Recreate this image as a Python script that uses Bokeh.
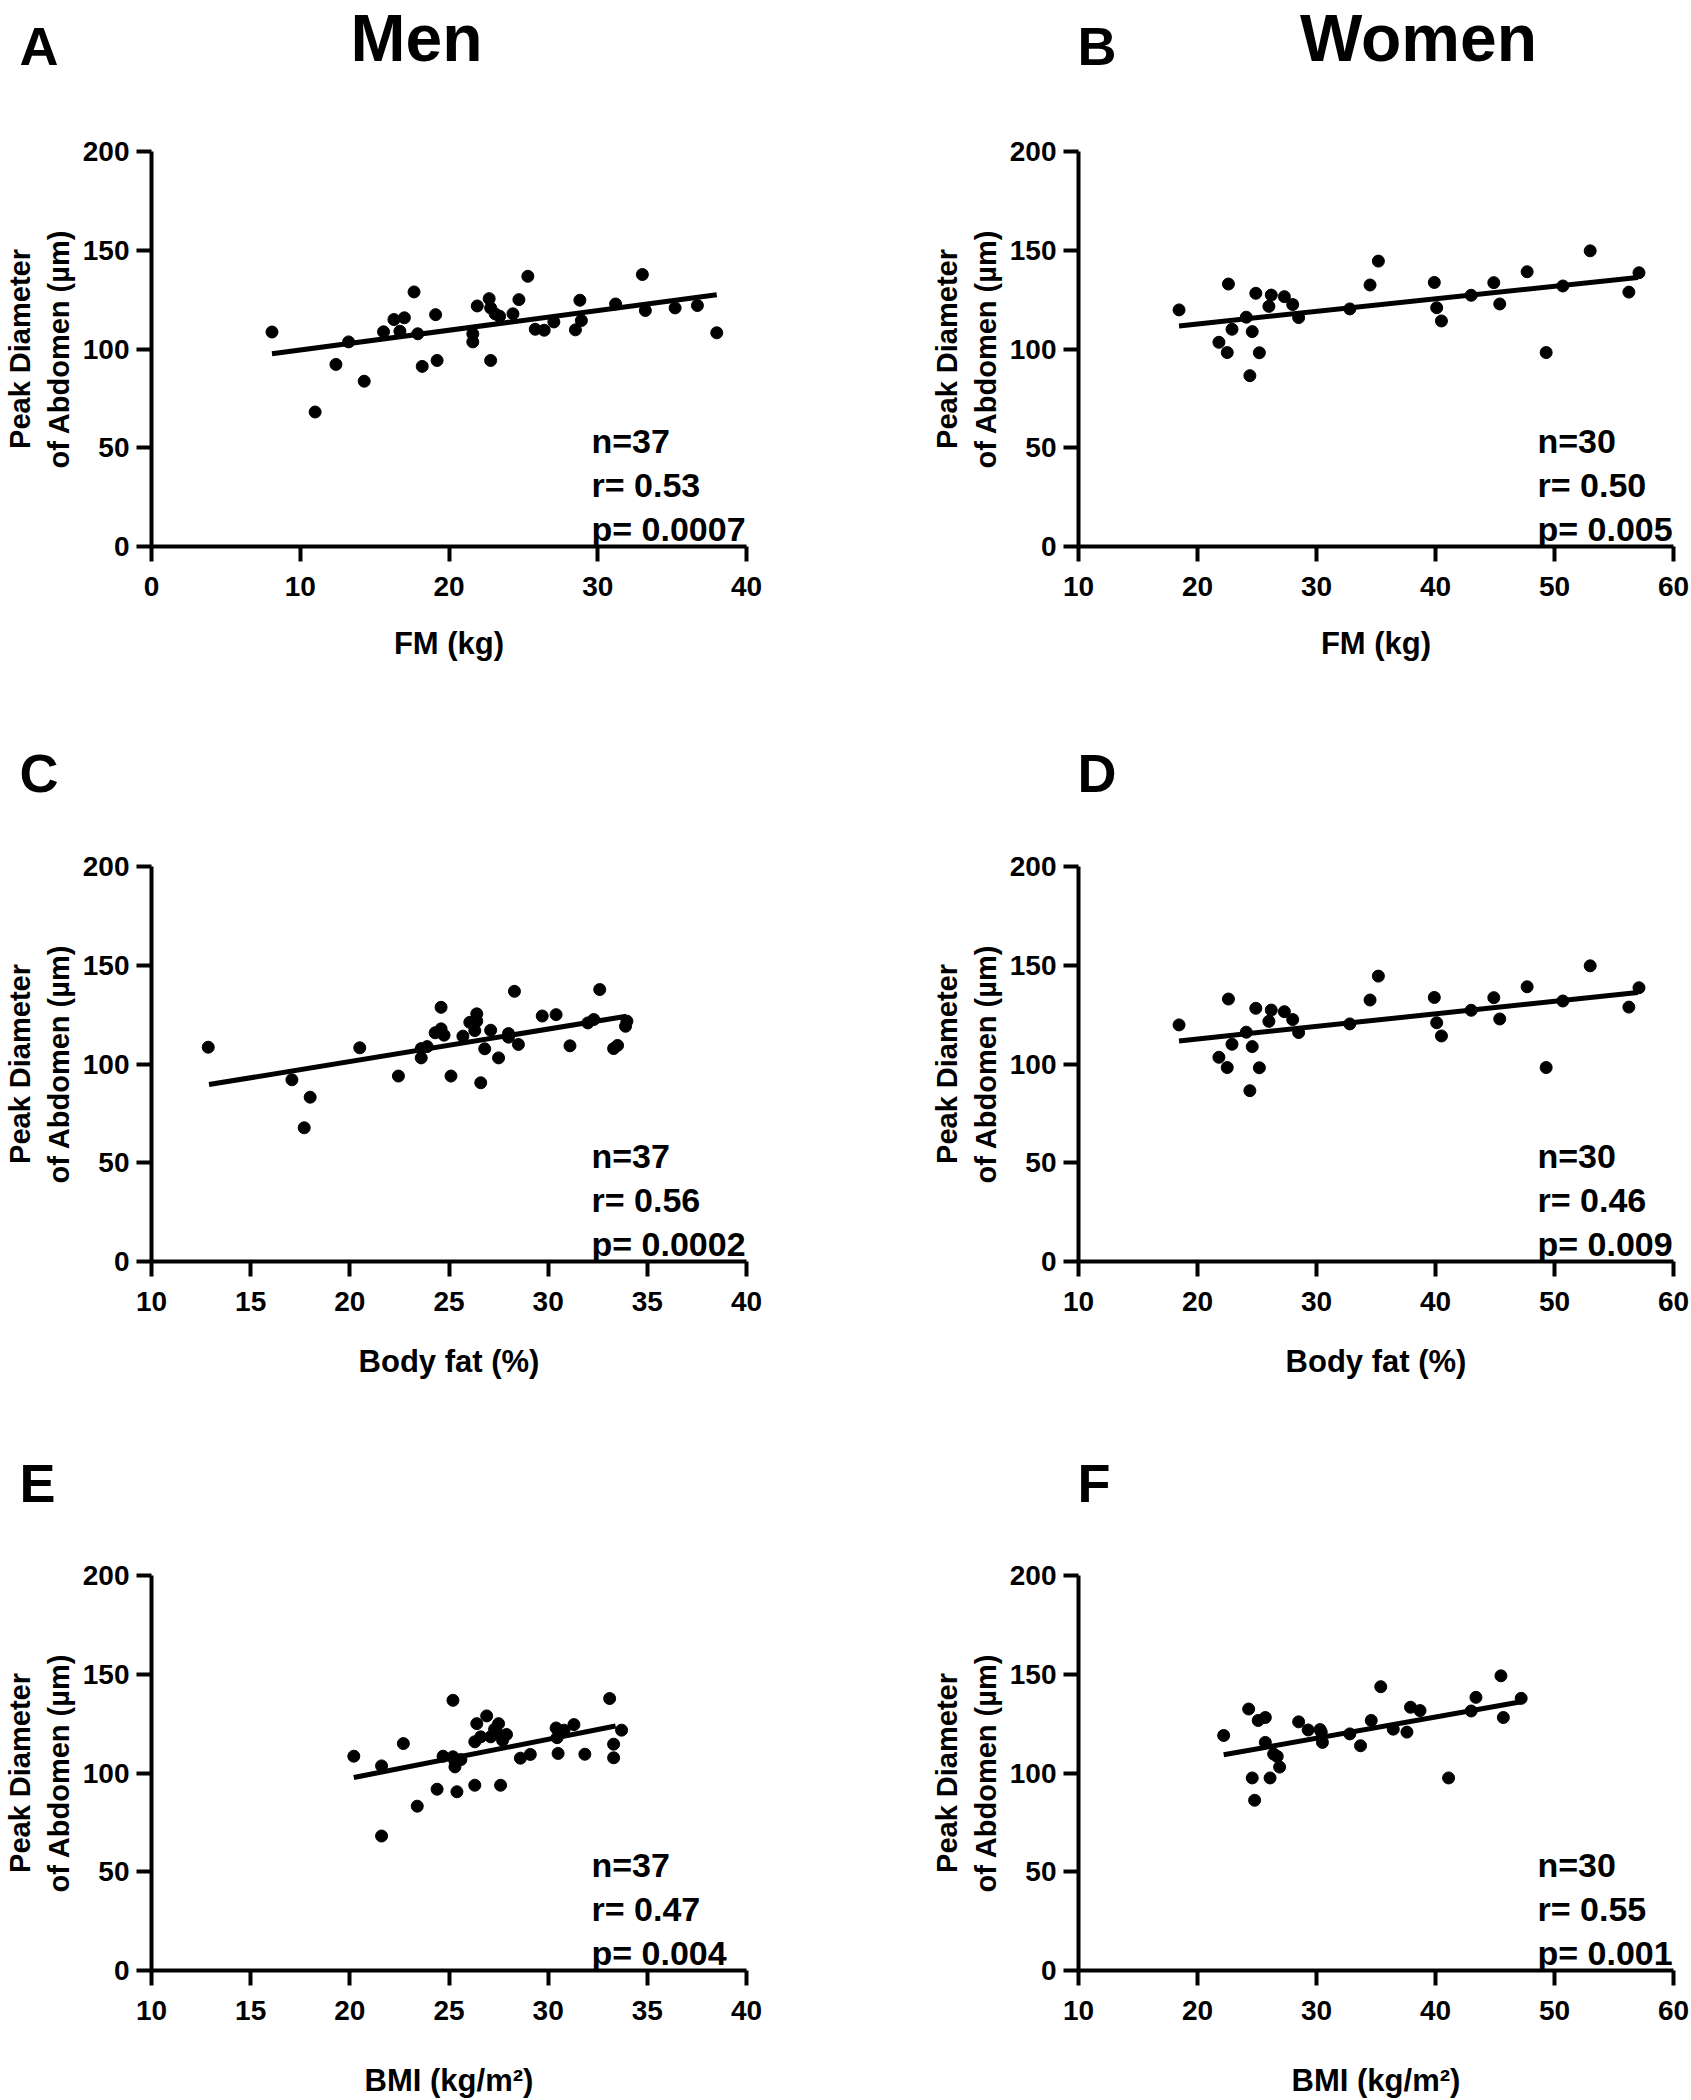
from bokeh.plotting import figure
from bokeh.layouts import column, row
from bokeh.models import Range1d, Label, FixedTicker
from bokeh.core.properties import value
from bokeh.embed import file_html
from bokeh.resources import INLINE

FONT = "Liberation Sans"

# ---------------- data ----------------
y_ticks = [0, 50, 100, 150, 200]
y_title = "Peak Diameter\nof Abdomen (µm)"

# A: Men, FM (kg)
men_fm_x = [8.1, 11.0, 12.4, 13.25, 14.3, 15.6, 16.3, 17.0, 16.7, 17.65, 17.9, 18.2, 19.1, 19.2,
            21.6, 21.6, 21.9, 22.7, 22.8, 23.1, 23.4, 22.8, 24.3, 24.7, 25.3, 25.8, 26.4, 27.05,
            28.5, 28.8, 28.9, 31.2, 33.0, 33.2, 35.2, 36.7, 38.0]
men_fm_y = [108.6, 68.1, 92.2, 103.6, 83.7, 108.7, 114.9, 115.8, 109.0, 128.9, 107.7, 91.2, 117.4, 94.2,
            107.7, 103.6, 121.8, 125.5, 120.8, 117.8, 116.6, 94.2, 117.8, 125.0, 136.8, 110.0, 109.5, 113.7,
            109.7, 124.7, 114.4, 122.8, 137.7, 119.5, 120.8, 122.0, 108.2]
men_fm_fit_x = [8.1, 38.0]
men_fm_fit_y = [97.6, 127.5]
men_fm_ticks = [0, 10, 20, 30, 40]
men_fm_stats = ["n=37", "r= 0.53", "p= 0.0007"]

# B: Women, FM (kg)
women_fm_x = [18.45, 22.6, 21.8, 22.5, 22.9, 24.1, 24.6, 24.4, 24.9, 25.2, 26.0, 26.2, 27.3, 28.0, 28.5,
              32.8, 34.5, 35.2, 39.9, 40.1, 40.5, 43.0, 44.9, 45.4, 47.7, 49.3, 50.7, 53.0, 56.25, 57.1]
women_fm_y = [119.8, 132.9, 103.4, 98.2, 110.0, 116.1, 108.8, 86.5, 128.2, 98.1, 121.6, 127.3, 126.5, 122.5, 115.9,
              120.3, 132.4, 144.5, 133.7, 120.9, 114.2, 127.2, 133.6, 122.8, 139.1, 98.2, 131.9, 149.7, 128.8, 138.6]
women_fm_fit_x = [18.45, 57.0]
women_fm_fit_y = [111.7, 136.2]
women_fm_ticks = [10, 20, 30, 40, 50, 60]
women_fm_stats = ["n=30", "r= 0.50", "p= 0.005"]

# C: Men, Body fat (%)
men_bf_x = [12.86, 17.08, 18.0, 17.7, 20.5, 22.45, 23.6, 23.6, 23.9, 24.3, 24.6, 24.6, 24.75, 25.1, 25.7,
            26.05, 26.4, 26.4, 26.3, 26.6, 26.8, 27.1, 27.5, 28.0, 28.0, 28.3, 28.5, 29.7, 30.4, 31.1,
            32.0, 32.3, 32.6, 33.3, 33.5, 33.9, 33.97]
men_bf_y = [108.5, 92.0, 83.2, 67.7, 108.2, 93.9, 103.1, 107.8, 108.8, 115.8, 128.7, 117.8, 114.6, 93.9, 114.1,
            121.1, 125.4, 121.7, 116.9, 90.5, 107.7, 117.1, 103.1, 115.4, 113.6, 136.8, 109.9, 124.3, 125.0, 109.2,
            120.8, 122.5, 137.7, 107.8, 109.4, 119.1, 121.7]
men_bf_fit_x = [12.9, 33.95]
men_bf_fit_y = [89.6, 124.2]
men_bf_ticks = [10, 15, 20, 25, 30, 35, 40]
men_bf_stats = ["n=37", "r= 0.56", "p= 0.0002"]

# D: Women, Body fat (%)  (the reference shows the same scatter as panel B)
women_bf_x = [18.45, 22.6, 21.8, 22.5, 22.9, 24.1, 24.6, 24.4, 24.9, 25.2, 26.0, 26.2, 27.3, 28.0, 28.5,
              32.8, 34.5, 35.2, 39.9, 40.1, 40.5, 43.0, 44.9, 45.4, 47.7, 49.3, 50.7, 53.0, 56.25, 57.1]
women_bf_y = [119.8, 132.9, 103.4, 98.2, 110.0, 116.1, 108.8, 86.5, 128.2, 98.1, 121.6, 127.3, 126.5, 122.5, 115.9,
              120.3, 132.4, 144.5, 133.7, 120.9, 114.2, 127.2, 133.6, 122.8, 139.1, 98.2, 131.9, 149.7, 128.8, 138.6]
women_bf_fit_x = [18.45, 57.0]
women_bf_fit_y = [111.7, 136.2]
women_bf_ticks = [10, 20, 30, 40, 50, 60]
women_bf_stats = ["n=30", "r= 0.46", "p= 0.009"]

# E: Men, BMI
men_bmi_x = [20.2, 21.6, 21.6, 22.7, 23.4, 24.4, 24.7, 25.2, 25.2, 25.3, 25.4, 25.6, 26.3, 26.3, 26.4,
             26.6, 26.9, 27.1, 27.3, 27.5, 27.6, 27.7, 27.9, 28.6, 29.1, 30.4, 30.45, 30.5, 30.8, 31.3,
             31.85, 33.1, 33.3, 33.3, 33.7, 27.4, 25.3]
men_bmi_y = [108.5, 103.6, 68.1, 114.9, 83.2, 91.8, 108.5, 136.8, 108.2, 103.1, 90.5, 106.8, 93.8, 115.8, 125.0,
             118.3, 128.9, 118.3, 122.2, 125.0, 93.8, 116.6, 119.5, 107.5, 109.4, 122.8, 117.9, 109.9, 121.7, 124.5,
             109.5, 137.7, 107.7, 114.6, 121.7, 120.6, 106.0]
men_bmi_fit_x = [20.2, 33.4]
men_bmi_fit_y = [97.7, 123.8]
men_bmi_ticks = [10, 15, 20, 25, 30, 35, 40]
men_bmi_stats = ["n=37", "r= 0.47", "p= 0.004"]

# F: Women, BMI
women_bmi_x = [22.2, 24.3, 24.6, 24.8, 25.1, 25.7, 25.7, 26.1, 26.4, 26.7, 26.9, 28.5, 29.3, 30.4, 30.5,
               32.8, 33.7, 34.6, 35.4, 36.45, 37.6, 37.9, 38.7, 41.1, 43.0, 43.4, 45.5, 45.7, 47.2, 30.3]
women_bmi_y = [119.0, 132.4, 97.5, 86.2, 126.6, 128.1, 115.5, 97.5, 109.6, 108.4, 103.0, 125.9, 121.8, 120.7, 115.5,
               119.8, 113.8, 126.6, 143.7, 122.2, 120.7, 133.3, 131.6, 97.5, 131.4, 138.3, 149.2, 128.1, 137.8, 122.0]
women_bmi_fit_x = [22.2, 47.2]
women_bmi_fit_y = [109.2, 136.1]
women_bmi_ticks = [10, 20, 30, 40, 50, 60]
women_bmi_stats = ["n=30", "r= 0.55", "p= 0.001"]

# panel letters and column headings
letters = [["A", "B"], ["C", "D"], ["E", "F"]]
headings = ["Men", "Women"]

# ---------------- layout ----------------
PAGE_W = 1691
FRAME_H = 395
FRAME_W = 595
TOP = 20
BOTTOM = [124, 124, 130]
XSTAND = [27, 30, 40]
LEFT_W = 927
RIGHT_W = PAGE_W - LEFT_W
BORDER_L = 151
COLS = [dict(width=LEFT_W, right=LEFT_W - BORDER_L - FRAME_W, stat_x=440),
        dict(width=RIGHT_W, right=RIGHT_W - BORDER_L - FRAME_W, stat_x=459)]
STRIP_H = [131, 176, 170]
LETTER_X = [19, 1077]
LETTER_Y = [45, 102, 97]       # px from top of each strip
HEAD_X = [416, 1418]
HEAD_Y = 37
STAT_Y = [106, 62, 18]         # px above the frame bottom


def strip(r):
    h = STRIP_H[r]
    s = figure(width=PAGE_W, height=h, x_range=Range1d(0, PAGE_W), y_range=Range1d(0, h),
               x_axis_type=None, y_axis_type=None, output_backend="svg",
               toolbar_location=None, tools="", min_border=0, title=None)
    s.outline_line_color = None
    s.background_fill_color = "white"
    s.border_fill_color = "white"
    s.text(x=LETTER_X, y=[h - LETTER_Y[r]] * 2, text=letters[r],
           text_font=value(FONT), text_font_size=value("54px"), text_font_style="bold",
           text_color="black", text_align="left", text_baseline="alphabetic")
    if r == 0:
        s.text(x=HEAD_X, y=[h - HEAD_Y] * 2, text=headings,
               text_font=value(FONT), text_font_size=value("66px"), text_font_style="bold",
               text_color="black", text_align="center", text_baseline="alphabetic")
    return s


def panel(xs, ys, fx, fy, ticks, xlabel, stats, r, c):
    cfg = COLS[c]
    p = figure(width=cfg["width"], height=TOP + FRAME_H + BOTTOM[r],
               x_range=Range1d(ticks[0], ticks[-1]), y_range=Range1d(y_ticks[0], y_ticks[-1]),
               output_backend="svg", toolbar_location=None, tools="", title=None)
    p.min_border_left = BORDER_L
    p.min_border_right = cfg["right"]
    p.min_border_top = TOP
    p.min_border_bottom = BOTTOM[r]
    p.outline_line_color = None
    p.xgrid.visible = False
    p.ygrid.visible = False
    p.background_fill_color = "white"
    p.border_fill_color = "white"

    for ax in (p.xaxis[0], p.yaxis[0]):
        ax.axis_line_width = 4
        ax.axis_line_color = "black"
        ax.major_tick_line_width = 4
        ax.major_tick_line_color = "black"
        ax.major_tick_out = 15
        ax.major_tick_in = 0
        ax.minor_tick_line_color = None
        ax.major_label_text_font = FONT
        ax.major_label_text_font_style = "bold"
        ax.major_label_text_font_size = "28px"
        ax.major_label_text_color = "black"
        ax.axis_label_text_font = FONT
        ax.axis_label_text_font_style = "bold"
        ax.axis_label_text_color = "black"

    p.xaxis.ticker = FixedTicker(ticks=ticks)
    p.yaxis.ticker = FixedTicker(ticks=y_ticks)
    p.xaxis.major_label_standoff = 15
    p.yaxis.major_label_standoff = 7
    p.xaxis.axis_label = xlabel
    p.xaxis.axis_label_text_font_size = "31px"
    p.xaxis.axis_label_standoff = XSTAND[r]
    p.yaxis.axis_label = y_title
    p.yaxis.axis_label_text_font_size = "29px"
    p.yaxis.axis_label_standoff = 5

    p.line(fx, fy, line_width=5, line_color="black")
    p.scatter(xs, ys, size=12, fill_color="black", line_color="black")

    for txt, base in zip(stats, STAT_Y):
        p.add_layout(Label(x=cfg["stat_x"], y=base, x_units="screen", y_units="screen", text=txt,
                           text_font=FONT, text_font_style="bold", text_font_size="34px",
                           text_color="black", text_align="left", text_baseline="alphabetic"))
    return p


pA = panel(men_fm_x, men_fm_y, men_fm_fit_x, men_fm_fit_y, men_fm_ticks, "FM (kg)", men_fm_stats, 0, 0)
pB = panel(women_fm_x, women_fm_y, women_fm_fit_x, women_fm_fit_y, women_fm_ticks, "FM (kg)", women_fm_stats, 0, 1)
pC = panel(men_bf_x, men_bf_y, men_bf_fit_x, men_bf_fit_y, men_bf_ticks, "Body fat (%)", men_bf_stats, 1, 0)
pD = panel(women_bf_x, women_bf_y, women_bf_fit_x, women_bf_fit_y, women_bf_ticks, "Body fat (%)", women_bf_stats, 1, 1)
pE = panel(men_bmi_x, men_bmi_y, men_bmi_fit_x, men_bmi_fit_y, men_bmi_ticks, "BMI (kg/m²)", men_bmi_stats, 2, 0)
pF = panel(women_bmi_x, women_bmi_y, women_bmi_fit_x, women_bmi_fit_y, women_bmi_ticks, "BMI (kg/m²)", women_bmi_stats, 2, 1)

layout = column(strip(0), row(pA, pB, spacing=0),
                strip(1), row(pC, pD, spacing=0),
                strip(2), row(pE, pF, spacing=0), spacing=0)

with open("out.html", "w") as f:
    f.write(file_html(layout, INLINE, title="Peak diameter of abdomen vs adiposity"))
